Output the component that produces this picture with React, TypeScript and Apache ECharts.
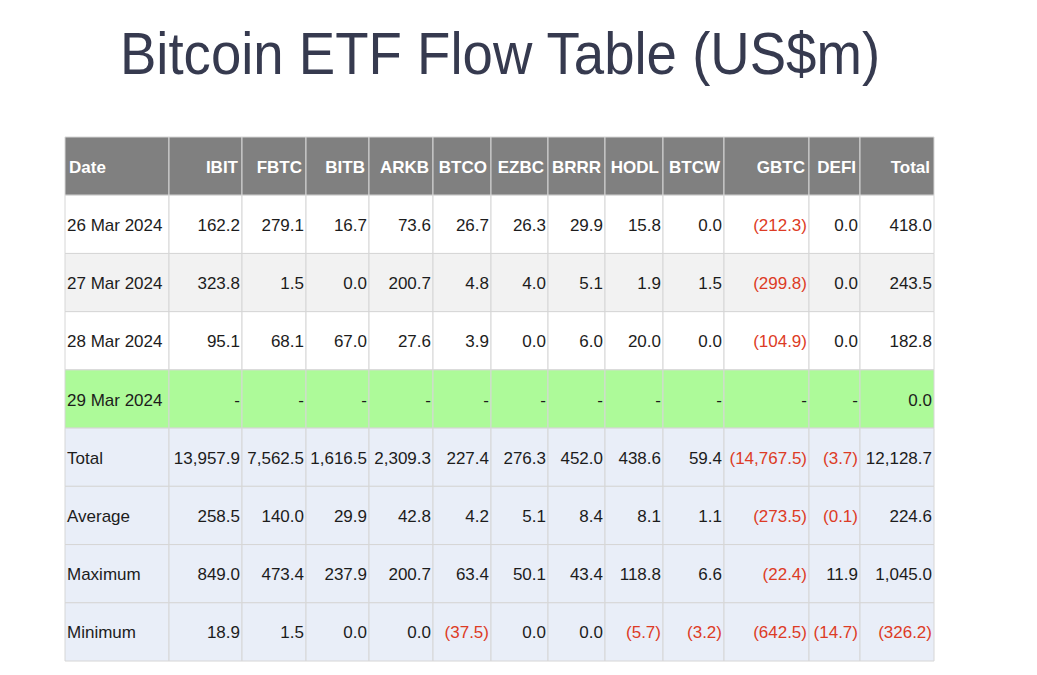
import { useEffect, useRef } from 'react';
import * as echarts from 'echarts';

const chartTitle = 'Bitcoin ETF Flow Table (US$m)';
const headers = ['Date', 'IBIT', 'FBTC', 'BITB', 'ARKB', 'BTCO', 'EZBC', 'BRRR', 'HODL', 'BTCW', 'GBTC', 'DEFI', 'Total'];
const rowLabels = ['26 Mar 2024', '27 Mar 2024', '28 Mar 2024', '29 Mar 2024', 'Total', 'Average', 'Maximum', 'Minimum'];

const mar26 = [162.2, 279.1, 16.7, 73.6, 26.7, 26.3, 29.9, 15.8, 0.0, -212.3, 0.0, 418.0];
const mar27 = [323.8, 1.5, 0.0, 200.7, 4.8, 4.0, 5.1, 1.9, 1.5, -299.8, 0.0, 243.5];
const mar28 = [95.1, 68.1, 67.0, 27.6, 3.9, 0.0, 6.0, 20.0, 0.0, -104.9, 0.0, 182.8];
const mar29 = [null, null, null, null, null, null, null, null, null, null, null, 0.0];
const totals = [13957.9, 7562.5, 1616.5, 2309.3, 227.4, 276.3, 452.0, 438.6, 59.4, -14767.5, -3.7, 12128.7];
const averages = [258.5, 140.0, 29.9, 42.8, 4.2, 5.1, 8.4, 8.1, 1.1, -273.5, -0.1, 224.6];
const maxima = [849.0, 473.4, 237.9, 200.7, 63.4, 50.1, 43.4, 118.8, 6.6, -22.4, 11.9, 1045.0];
const minima = [18.9, 1.5, 0.0, 0.0, -37.5, 0.0, 0.0, -5.7, -3.2, -642.5, -14.7, -326.2];

const rowValues: (number | null)[][] = [mar26, mar27, mar28, mar29, totals, averages, maxima, minima];
const rowFills = ['#ffffff', '#f2f2f2', '#ffffff', '#adfa99', '#e9eef8', '#e9eef8', '#e9eef8', '#e9eef8'];

// layout: column widths in px
const colWidths = [104, 73, 64, 63, 64, 58, 57, 57, 58, 61, 85, 51, 74];

const FONT = 'Arial, "Liberation Sans", Helvetica, sans-serif';
const RED = '#dd3b25';
const INK = '#1c1c1c';

function fmt(v: number | null): string {
  if (v === null) return '-';
  const s = Math.abs(v).toLocaleString('en-US', { minimumFractionDigits: 1, maximumFractionDigits: 1 });
  return v < 0 ? '(' + s + ')' : s;
}

export default function App() {
  const ref = useRef<HTMLDivElement>(null);
  useEffect(() => {
    if (!ref.current) return;
    const chart = echarts.init(ref.current, undefined, { renderer: 'svg' });

    const colEdges: number[] = [0];
    colWidths.forEach((w, i) => colEdges.push(colEdges[i] + w));
    const totalW = colEdges[colEdges.length - 1];

    const yCats = ['header', ...rowLabels.map((l, i) => 'r' + i)];

    type Cell = { text: string; color: string; bg: string; bold: boolean; align: 'left' | 'right'; header: boolean };
    const cells: Cell[] = [];
    const data: number[][] = [];
    headers.forEach((h, c) => {
      cells.push({ text: h, color: '#ffffff', bg: '#808080', bold: true, align: c === 0 ? 'left' : 'right', header: true });
      data.push([colEdges[c], 0, c]);
    });
    rowLabels.forEach((label, r) => {
      cells.push({ text: label, color: INK, bg: rowFills[r], bold: false, align: 'left', header: false });
      data.push([colEdges[0], r + 1, 0]);
      rowValues[r].forEach((v, k) => {
        cells.push({
          text: fmt(v),
          color: v !== null && v < 0 ? RED : INK,
          bg: rowFills[r],
          bold: false,
          align: 'right',
          header: false,
        });
        data.push([colEdges[k + 1], r + 1, k + 1]);
      });
    });

    chart.setOption({
      animation: false,
      backgroundColor: '#ffffff',
      graphic: [
        {
          type: 'group',
          x: 500,
          y: 54,
          scaleX: 0.925,
          children: [
            {
              type: 'text',
              x: 0,
              y: 0,
              style: {
                text: chartTitle,
                fill: '#363a4f',
                font: '59px ' + FONT,
                align: 'center',
                verticalAlign: 'middle',
              },
            },
          ],
        },
      ],
      grid: { left: 65, top: 137, width: totalW, height: 524 },
      xAxis: { type: 'value', min: 0, max: totalW, show: false },
      yAxis: { type: 'category', data: yCats, inverse: true, show: false },
      series: [
        {
          type: 'custom',
          data,
          encode: { x: 0, y: 1 },
          renderItem: (params: any, api: any) => {
            const c = api.value(2) as number;
            const r = api.value(1) as number;
            const left = api.coord([api.value(0), r])[0];
            const right = api.coord([colEdges[c + 1], r])[0];
            const cy = api.coord([0, r])[1];
            const h = api.size([0, 1])[1];
            const cell = cells[params.dataIndex];
            const pad = cell.header ? 4 : 2;
            return {
              type: 'group',
              children: [
                {
                  type: 'rect',
                  shape: { x: left, y: cy - h / 2, width: right - left, height: h },
                  style: { fill: cell.bg, stroke: '#d6d6d6', lineWidth: 1 },
                },
                {
                  type: 'text',
                  style: {
                    text: cell.text,
                    x: cell.align === 'left' ? left + pad : right - pad,
                    y: cy + 1,
                    align: cell.align,
                    verticalAlign: 'middle',
                    fill: cell.color,
                    font: (cell.bold ? 'bold ' : '') + '17px ' + FONT,
                  },
                },
              ],
            };
          },
        },
      ],
    });
    return () => chart.dispose();
  }, []);
  return <div ref={ref} style={{ position: 'fixed', left: 0, top: 0, width: 1037, height: 675 }} />;
}
